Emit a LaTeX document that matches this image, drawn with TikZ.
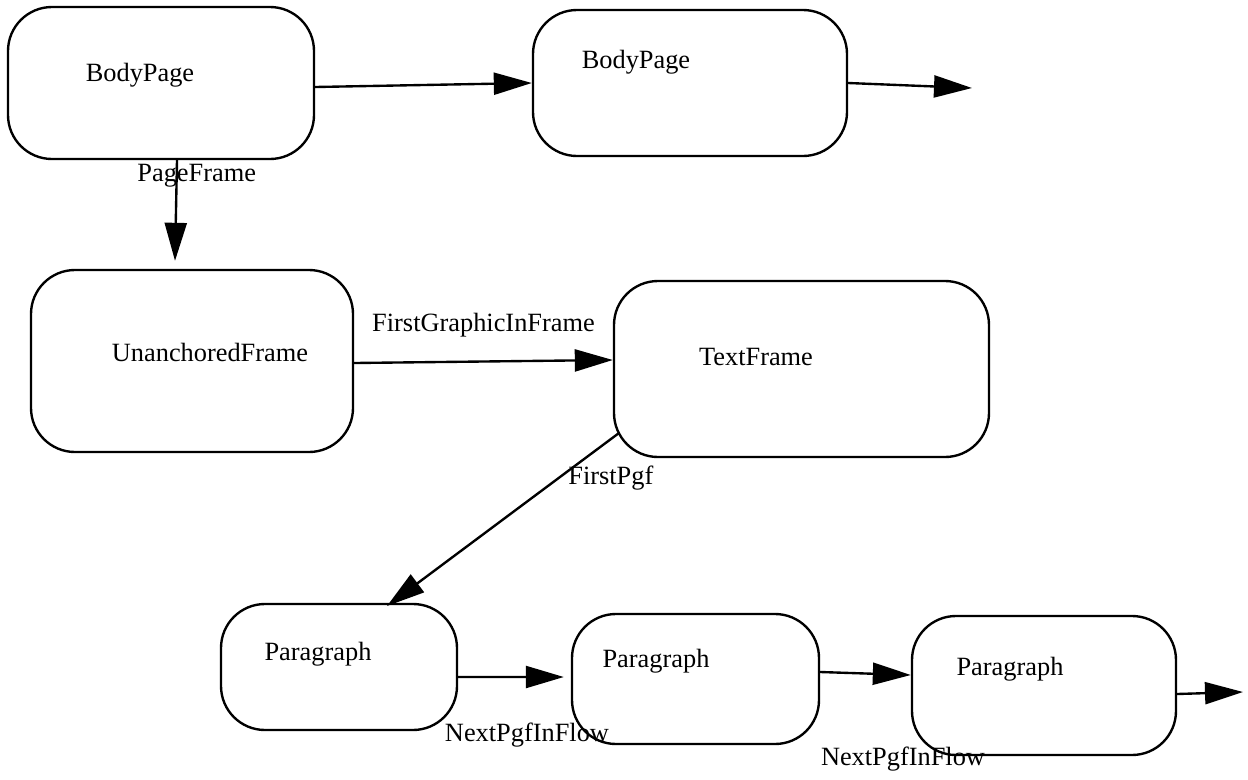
\documentclass[tikz,border=0pt]{standalone}
\usepackage{fontspec}
\setmainfont{Liberation Serif}
\usepackage{tikz}
\usetikzlibrary{positioning}
\usetikzlibrary{arrows.meta}
\tikzset{>=latex}
\tikzstyle{frame_box}=[draw=black, line width=1.35pt, rounded corners=0.88cm, inner sep=0pt]
\tikzstyle{box_text}=[font=\fontsize{15}{18}\selectfont, inner sep=1pt]
\tikzstyle{link label}=[font=\fontsize{15}{18}\selectfont, inner sep=1pt]
\tikzstyle{link arrow}=[-{Triangle[length=0.76cm,width=0.44cm]}, line width=1.35pt, black]

\begin{document}
\begin{tikzpicture}[
    on grid]

        \useasboundingbox (0,0) rectangle (24.96,-15.58);

        % page level
        \node[frame_box, minimum width=6.12cm, minimum height=3.04cm] (bp1) at (3.22,-1.66) {};
        \node[frame_box, minimum width=6.28cm, minimum height=2.92cm, right=10.58cm of bp1] (bp2) {};
        \coordinate (bpnext) at (19.44,-1.76);
        % frame level
        \node[frame_box, minimum width=6.44cm, minimum height=3.64cm, below right=5.56cm and 0.62cm of bp1] (uf) {};
        \node[frame_box, minimum width=7.5cm, minimum height=3.52cm, below right=0.16cm and 12.19cm of uf] (tf) {};
        % paragraph level
        \node[frame_box, minimum width=4.72cm, minimum height=2.52cm, below right=6.12cm and 2.94cm of uf] (p1) {};
        \node[frame_box, minimum width=4.94cm, minimum height=2.6cm, below right=0.24cm and 7.13cm of p1] (p2) {};
        \node[frame_box, minimum width=5.28cm, minimum height=2.78cm, below right=0.13cm and 6.97cm of p2] (p3) {};
        \coordinate (p3next) at (24.86,-13.84);

        % texts inside the boxes
        \node[box_text] (bp1t) at ([shift={(-0.42,0.16)}]bp1.center) {BodyPage};
        \node[box_text] (bp2t) at ([shift={(-1.08,0.42)}]bp2.center) {BodyPage};
        \node[box_text] (uft) at ([shift={(0.36,0.18)}]uf.center) {UnanchoredFrame};
        \node[box_text] (tft) at ([shift={(-0.91,0.24)}]tf.center) {TextFrame};
        \node[box_text] (p1t) at ([shift={(-0.42,0.26)}]p1.center) {Paragraph};
        \node[box_text] (p2t) at ([shift={(-0.79,0.36)}]p2.center) {Paragraph};
        \node[box_text] (p3t) at ([shift={(-0.68,0.33)}]p3.center) {Paragraph};

        \begin{scope}[link arrow]
            \draw ([yshift=-0.08cm]bp1.east) -- (bp2.west);
            \draw (bp2.east) -- (bpnext);
            \draw ([xshift=0.32cm]bp1.south) -- node[link label, pos=0.15, xshift=0.4cm] (pfl) {PageFrame} ([xshift=-0.34cm,yshift=0.16cm]uf.north);
            \draw ([yshift=-0.04cm]uf.east) -- node[link label, midway, yshift=0.72cm] (fgl) {FirstGraphicInFrame} ([yshift=0.18cm]tf.west);
            \draw ([shift={(-3.65,-1.28)}]tf.center) -- node[link label, pos=0.16, xshift=0.58cm, yshift=-0.34cm] (fpl) {FirstPgf} ([shift={(0.96,1.22)}]p1.center);
            \draw ([yshift=-0.2cm]p1.east) -- node[link label, midway, xshift=0.32cm, yshift=-1.16cm] (n1l) {NextPgfInFlow} ([xshift=-0.14cm,yshift=0.04cm]p2.west);
            \draw ([yshift=0.14cm]p2.east) -- node[link label, midway, xshift=0.75cm, yshift=-1.71cm] (n2l) {NextPgfInFlow} ([yshift=0.21cm]p3.west);
            \draw ([yshift=-0.17cm]p3.east) -- (p3next);
        \end{scope}

\end{tikzpicture}
\end{document}
